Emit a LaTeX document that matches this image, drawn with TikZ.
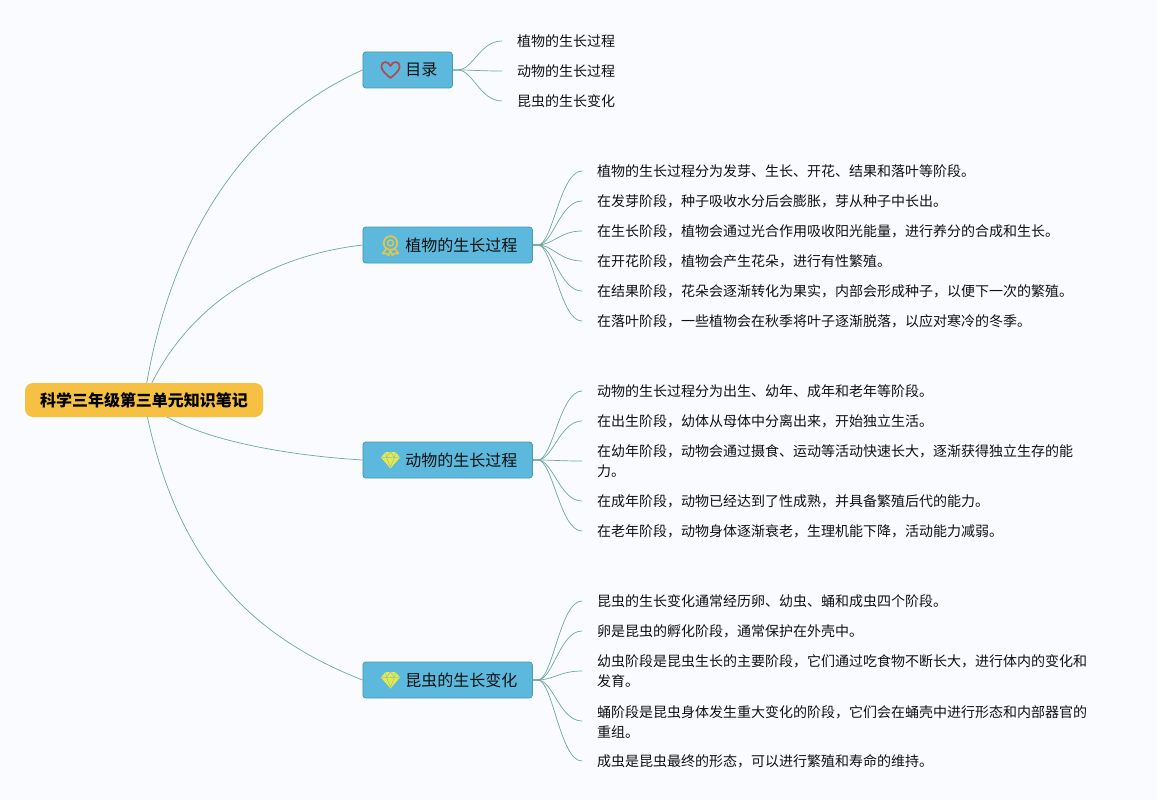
\documentclass[tikz,border=0pt]{standalone}
\usepackage{fontspec}
\setmainfont{Noto Sans CJK SC}
\usetikzlibrary{backgrounds,calc}
\definecolor{pagebg}{HTML}{F9FBFF}
\definecolor{rootfill}{HTML}{F6C143}
\definecolor{boxfill}{HTML}{5CB8DC}
\definecolor{boxline}{HTML}{4A9AA8}
\definecolor{linkc}{HTML}{6FA89F}
\definecolor{inkc}{HTML}{111111}
\definecolor{heartc}{HTML}{B5484E}
\definecolor{medalc}{HTML}{DCC850}
\definecolor{gemc}{HTML}{E8E84A}
\tikzset{
  rootbox/.style={fill=rootfill,rounded corners=8pt,minimum width=238pt,minimum height=34pt,inner sep=0pt,text=black,font=\bfseries\fontsize{16}{20}\selectfont},
  branchbox/.style={fill=boxfill,draw=boxline,line width=0.8pt,rounded corners=3pt,minimum height=36pt,inner ysep=0pt,inner xsep=15pt,text=inkc,anchor=west,font=\fontsize{16}{20}\selectfont},
  leaf/.style={anchor=west,inner xsep=15pt,inner ysep=0pt,align=left,text=inkc,yshift=-0.5pt,font=\fontsize{14}{20}\selectfont},
  link/.style={draw=linkc,line width=0.7pt},
}
\newcommand{\lnk}[2]{\draw[link] (#1.east) -- ++(5,0) .. controls ($(#1.east)+(20,0)$) and ($(#2.west)+(-22,-0.5)$) .. ($(#2.west)+(0,-0.5)$);}
\newcommand{\lbl}[1]{\hspace*{27.5pt}\raisebox{-0.7pt}{#1}}
\newcommand{\heartico}[1]{\draw[heartc,line width=1.7pt,line join=round] ($(#1)+(0,8)$) .. controls ($(#1)+(-5,4)$) and ($(#1)+(-9,0)$) .. ($(#1)+(-9,-3)$) .. controls ($(#1)+(-9,-10)$) and ($(#1)+(-2,-9)$) .. ($(#1)+(0,-4)$) .. controls ($(#1)+(2,-9)$) and ($(#1)+(9,-10)$) .. ($(#1)+(9,-3)$) .. controls ($(#1)+(9,0)$) and ($(#1)+(5,4)$) .. cycle;}
\newcommand{\medalico}[1]{%
  \draw[medalc,line width=1.8pt] ($(#1)+(0,-2.5)$) circle (6.8pt);
  \draw[medalc,line width=1.4pt] ($(#1)+(0,-2.5)$) circle (3pt);
  \draw[medalc,line width=1.6pt,line join=round] ($(#1)+(-4,3)$) -- ($(#1)+(-8,8)$) -- ($(#1)+(-4,8)$) -- ($(#1)+(-2,10)$) -- ($(#1)+(0,5)$) -- ($(#1)+(2,10)$) -- ($(#1)+(4,8)$) -- ($(#1)+(8,8)$) -- ($(#1)+(4,3)$);}
\newcommand{\gemico}[1]{%
  \fill[gemc] ($(#1)+(-5,-8)$) -- ($(#1)+(5,-8)$) -- ($(#1)+(9.5,-2.5)$) -- ($(#1)+(0,8.5)$) -- ($(#1)+(-9.5,-2.5)$) -- cycle;
  \draw[boxfill!70!gemc,line width=0.5pt] ($(#1)+(-9,-2.5)$) -- ($(#1)+(9,-2.5)$) ($(#1)+(-4,-2.5)$) -- ($(#1)+(0,7)$) -- ($(#1)+(4,-2.5)$) ($(#1)+(-5,-8)$) -- ($(#1)+(-4,-2.5)$) -- ($(#1)+(0,-8)$) -- ($(#1)+(4,-2.5)$) -- ($(#1)+(5,-8)$);}
\begin{document}
\begin{tikzpicture}[x=1pt,y=-1pt]
\useasboundingbox (0,0) rectangle (1157,800);
\node[rootbox] (root) at (144,400) {\raisebox{-0.5pt}{科学三年级第三单元知识笔记}};
\node[branchbox] (b0) at (362.5,70) {\lbl{目录}};
\node[branchbox] (b1) at (362.5,245) {\lbl{植物的生长过程}};
\node[branchbox] (b2) at (362.5,460) {\lbl{动物的生长过程}};
\node[branchbox] (b3) at (362.5,680) {\lbl{昆虫的生长变化}};
\coordinate (i0) at (390.5,70);
\coordinate (i1) at (390.5,245.5);
\coordinate (i2) at (390.5,460);
\coordinate (i3) at (390.5,680);
\heartico{i0}
\medalico{i1}
\gemico{i2}
\gemico{i3}
\node[leaf] (a1) at (502,41) {植物的生长过程};
\node[leaf] (a2) at (502,71) {动物的生长过程};
\node[leaf] (a3) at (502,101) {昆虫的生长变化};
\node[leaf] (p1) at (582,171) {植物的生长过程分为发芽、生长、开花、结果和落叶等阶段。};
\node[leaf] (p2) at (582,201) {在发芽阶段，种子吸收水分后会膨胀，芽从种子中长出。};
\node[leaf] (p3) at (582,231) {在生长阶段，植物会通过光合作用吸收阳光能量，进行养分的合成和生长。};
\node[leaf] (p4) at (582,261) {在开花阶段，植物会产生花朵，进行有性繁殖。};
\node[leaf] (p5) at (582,291) {在结果阶段，花朵会逐渐转化为果实，内部会形成种子，以便下一次的繁殖。};
\node[leaf] (p6) at (582,321) {在落叶阶段，一些植物会在秋季将叶子逐渐脱落，以应对寒冷的冬季。};
\node[leaf] (q1) at (582,391) {动物的生长过程分为出生、幼年、成年和老年等阶段。};
\node[leaf] (q2) at (582,421) {在出生阶段，幼体从母体中分离出来，开始独立生活。};
\node[leaf] (q3) at (582,461) {在幼年阶段，动物会通过摄食、运动等活动快速长大，逐渐获得独立生存的能\\力。};
\node[leaf] (q4) at (582,501) {在成年阶段，动物已经达到了性成熟，并具备繁殖后代的能力。};
\node[leaf] (q5) at (582,531) {在老年阶段，动物身体逐渐衰老，生理机能下降，活动能力减弱。};
\node[leaf] (r1) at (582,601) {昆虫的生长变化通常经历卵、幼虫、蛹和成虫四个阶段。};
\node[leaf] (r2) at (582,631) {卵是昆虫的孵化阶段，通常保护在外壳中。};
\node[leaf] (r3) at (582,671) {幼虫阶段是昆虫生长的主要阶段，它们通过吃食物不断长大，进行体内的变化和\\发育。};
\node[leaf] (r4) at (582,721) {蛹阶段是昆虫身体发生重大变化的阶段，它们会在蛹壳中进行形态和内部器官的\\重组。};
\node[leaf] (r5) at (582,761) {成虫是昆虫最终的形态，可以进行繁殖和寿命的维持。};
\begin{scope}[on background layer]
\fill[pagebg] (0,0) rectangle (1157,800);
\draw[link] (root.center) .. controls (170,225) and (255,118) .. (b0.west);
\draw[link] (root.center) .. controls (178,318) and (252,258) .. (b1.west);
\draw[link] (root.center) .. controls (180,437) and (280,455) .. (b2.west);
\draw[link] (root.center) .. controls (172,550) and (240,632) .. (b3.west);
\lnk{b0}{a1}\lnk{b0}{a2}\lnk{b0}{a3}
\lnk{b1}{p1}\lnk{b1}{p2}\lnk{b1}{p3}\lnk{b1}{p4}\lnk{b1}{p5}\lnk{b1}{p6}
\lnk{b2}{q1}\lnk{b2}{q2}\lnk{b2}{q3}\lnk{b2}{q4}\lnk{b2}{q5}
\lnk{b3}{r1}\lnk{b3}{r2}\lnk{b3}{r3}\lnk{b3}{r4}\lnk{b3}{r5}
\end{scope}
\end{tikzpicture}
\end{document}
